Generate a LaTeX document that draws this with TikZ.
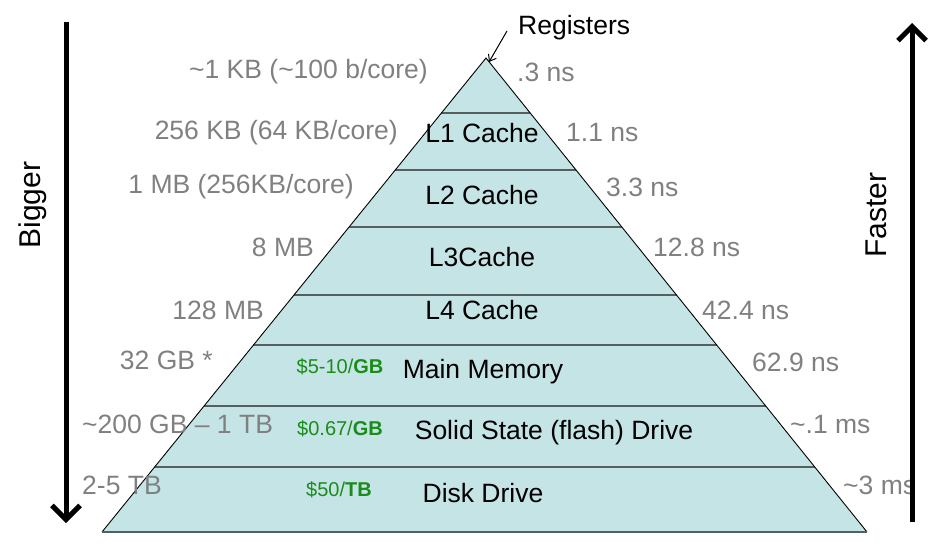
\documentclass[tikz,border=0pt]{standalone}
\usepackage{fontspec}
\setmainfont{Liberation Sans}
\usetikzlibrary{arrows.meta,calc}
\definecolor{fillc}{RGB}{197,228,230}
\definecolor{bandc}{RGB}{85,95,95}
\definecolor{graytxt}{RGB}{128,128,128}
\definecolor{greentxt}{RGB}{25,140,25}
\tikzset{
  lbl/.style={inner sep=0pt,font=\fontsize{26.5}{31}\selectfont},
  glbl/.style={lbl,text=graytxt},
  price/.style={inner sep=0pt,text=greentxt,font=\fontsize{20}{24}\selectfont},
  side/.style={inner sep=0pt,rotate=90,font=\fontsize{30}{36}\selectfont},
  band/.style={draw=bandc,line width=2pt},
  bigarrow/.style={line width=5pt,-{Straight Barb[length=14pt,width=28pt]}},
}
\begin{document}
\begin{tikzpicture}[x=1pt,y=-1pt]
\useasboundingbox (0,0) rectangle (951,548);
\coordinate (apex) at (486,58);
\coordinate (bl) at (102,532);
\coordinate (br) at (867,532);
\fill[fillc] (apex) -- (bl) -- (br) -- cycle;
\foreach \t in {0.1160,0.2363,0.3565,0.5,0.6055,0.7342,0.8629}{
  \draw[band] ($(apex)!\t!(bl)$) -- ($(apex)!\t!(br)$);
}
\draw[line width=0.9pt] (bl) -- (apex) -- (br);
\draw[band] (bl) -- (br);

% level labels
\node[lbl] (l1) at (482,133) {L1 Cache};
\node[lbl] (l2) at (482,195) {L2 Cache};
\node[lbl] (l3) at (482,257) {L3Cache};
\node[lbl] (l4) at (482,310) {L4 Cache};
\node[lbl] (mm) at (483,372) {Main Memory};
\node[lbl] (ssd) at (554,433) {Solid State (flash) Drive};
\node[lbl] (hdd) at (483,493) {Disk Drive};

% prices
\node[price] (p1) at (340,367) {\$5-10/\textbf{GB}};
\node[price] (p2) at (340,429) {\$0.67/\textbf{GB}};
\node[price] (p3) at (339,490) {\$50/\textbf{TB}};

% sizes
\node[glbl,anchor=east] (s0) at (428,72) {\textasciitilde1 KB (\textasciitilde100 b/core)};
\node[glbl,anchor=east] (s1) at (398,133) {256 KB (64 KB/core)};
\node[glbl,anchor=east] (s2) at (354,187) {1 MB (256KB/core)};
\node[glbl,anchor=east] (s3) at (314,247) {8 MB};
\node[glbl,anchor=east] (s4) at (264,310) {128 MB};
\node[glbl,anchor=east] (s5) at (213,360) {32 GB *};
\node[glbl,anchor=west] (s6) at (82,424) {\textasciitilde200 GB -- 1 TB};
\node[glbl,anchor=west] (s7) at (82,485) {2-5 TB};

% times
\node[glbl,anchor=west] (t0) at (517,72) {.3 ns};
\node[glbl,anchor=west] (t1) at (566,133) {1.1 ns};
\node[glbl,anchor=west] (t2) at (606,187) {3.3 ns};
\node[glbl,anchor=west] (t3) at (653,247) {12.8 ns};
\node[glbl,anchor=west] (t4) at (702,310) {42.4 ns};
\node[glbl,anchor=west] (t5) at (752,362) {62.9 ns};
\node[glbl,anchor=west] (t6) at (790,425) {\textasciitilde.1 ms};
\node[glbl,anchor=west] (t7) at (843,485) {\textasciitilde3 ms};

% registers
\node[lbl,anchor=west] (reg) at (518,28) {Registers};
\coordinate (regtip) at (489,62);
\draw[line width=1pt,-{Straight Barb[length=6pt,width=9pt]}] ([xshift=-11pt,yshift=-3pt]reg.west) -- (regtip);

% side arrows
\coordinate (btop) at (66,22);
\coordinate (bbot) at (66,523);
\draw[bigarrow] (btop) -- (bbot);
\node[side] (bigger) at (33,205) {Bigger};
\coordinate (fbot) at (912,522);
\coordinate (ftop) at (912,23);
\draw[bigarrow] (fbot) -- (ftop);
\node[side] (faster) at (876,215) {Faster};
\end{tikzpicture}
\end{document}
